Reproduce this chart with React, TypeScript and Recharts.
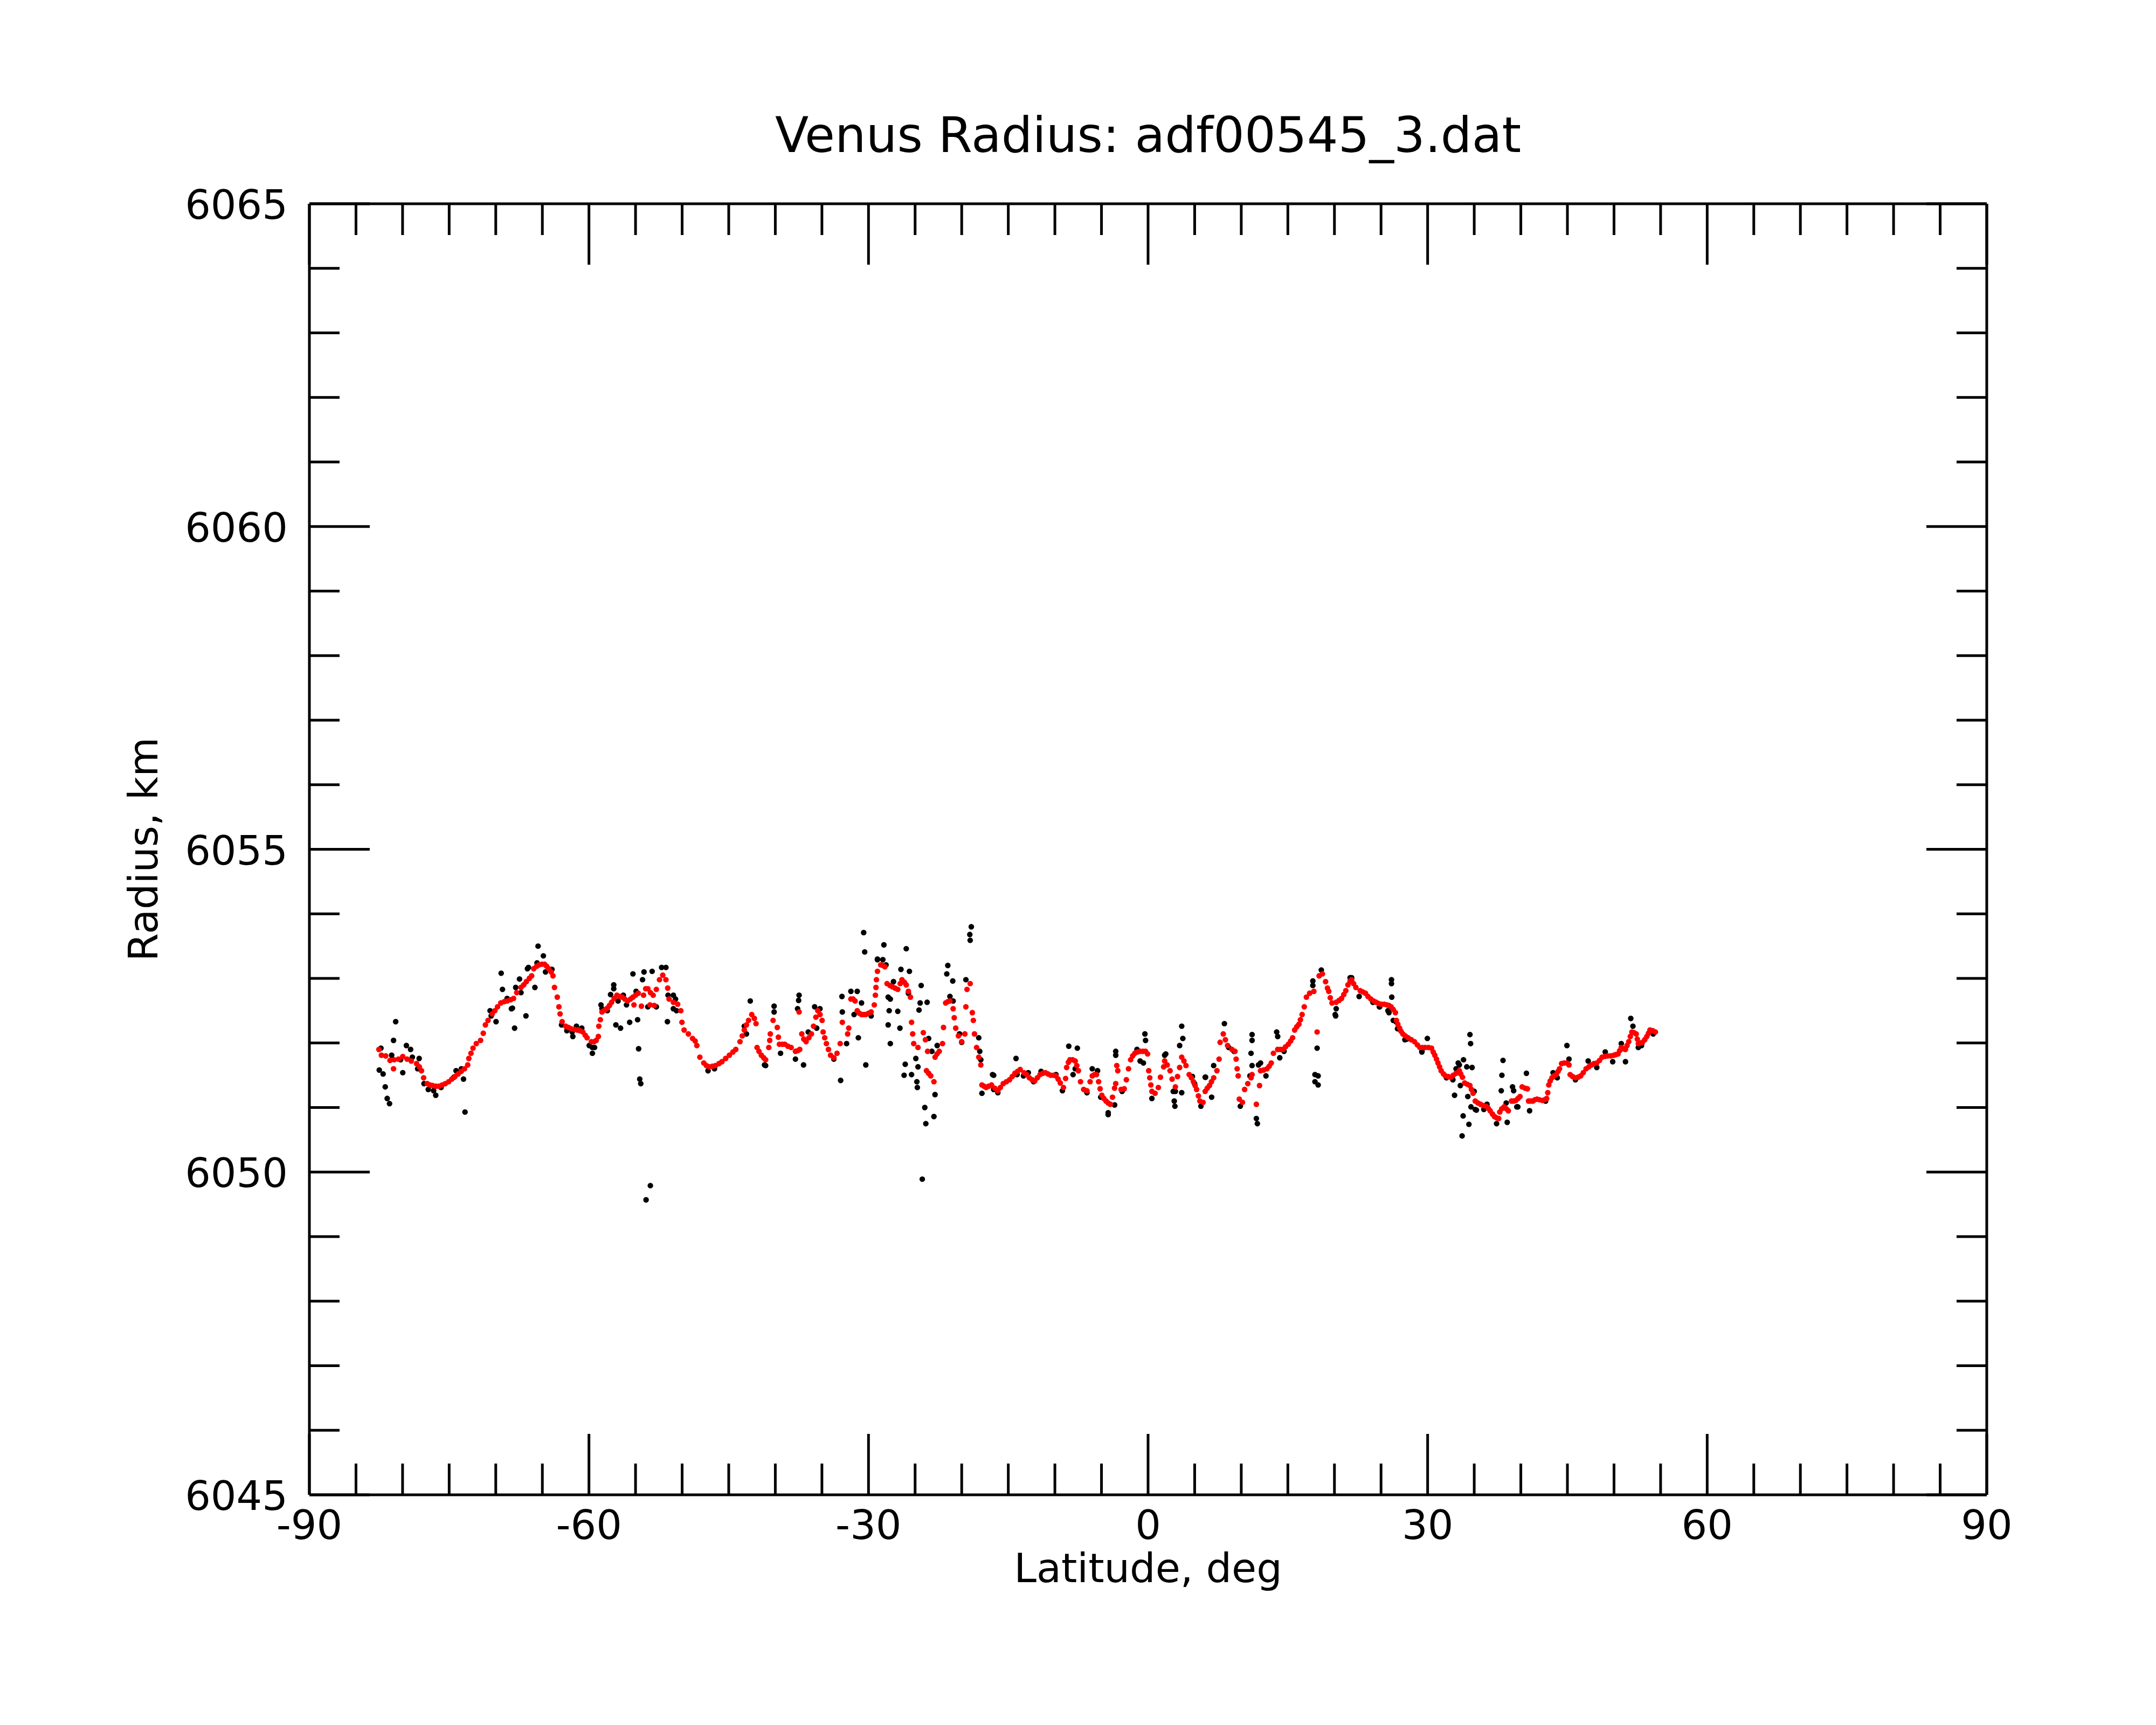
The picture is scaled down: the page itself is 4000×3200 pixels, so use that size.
import React from 'react';
import { ScatterChart, Scatter, XAxis, YAxis } from 'recharts';

const FONT = 'DejaVu Sans';
const TITLE = 'Venus Radius: adf00545_3.dat';
const X_LABEL = 'Latitude, deg';
const Y_LABEL = 'Radius, km';

const X_DOMAIN: [number, number] = [-90, 90];
const Y_DOMAIN: [number, number] = [6045, 6065];
const X_TICKS = [-90, -85, -80, -75, -70, -65, -60, -55, -50, -45, -40, -35, -30, -25, -20, -15, -10, -5, 0, 5, 10, 15, 20, 25, 30, 35, 40, 45, 50, 55, 60, 65, 70, 75, 80, 85, 90];
const X_MAJOR = [-90, -60, -30, 0, 30, 60, 90];
const Y_TICKS = [6045, 6046, 6047, 6048, 6049, 6050, 6051, 6052, 6053, 6054, 6055, 6056, 6057, 6058, 6059, 6060, 6061, 6062, 6063, 6064, 6065];
const Y_MAJOR = [6045, 6050, 6055, 6060, 6065];

// smoothed radius (red)
const RED_SMOOTHED: [number, number][] = [
  [-82.54,6051.90],[-82.27,6051.81],[-81.81,6051.80],[-81.35,6051.73],[-80.97,6051.60],[-80.90,6051.74],[-80.44,6051.75],[-79.98,6051.79],[-79.52,6051.75],[-79.07,6051.72],[-78.50,6051.68],[-78.20,6051.63],[-77.97,6051.57],[-77.74,6051.46],[-77.35,6051.37],[-77.05,6051.35],[-76.78,6051.34],[-76.43,6051.33],[-76.09,6051.33],[-75.75,6051.35],[-75.41,6051.37],[-75.05,6051.40],[-74.72,6051.44],[-74.38,6051.48],[-74.04,6051.52],[-73.70,6051.56],[-73.35,6051.60],[-73.01,6051.66],[-72.89,6051.76],[-72.66,6051.84],[-72.44,6051.92],[-72.09,6051.99],[-71.63,6052.04],[-71.34,6052.15],[-71.11,6052.28],[-70.83,6052.35],[-70.38,6052.45],[-70.10,6052.50],[-69.81,6052.56],[-69.46,6052.62],[-69.10,6052.64],[-68.78,6052.65],[-68.40,6052.67],[-68.09,6052.69],[-67.75,6052.78],[-67.29,6052.86],[-67.00,6052.90],[-66.72,6052.95],[-66.40,6053.00],[-66.15,6053.04],[-65.92,6053.15],[-65.60,6053.19],[-65.35,6053.21],[-65.05,6053.22],[-64.77,6053.22],[-64.55,6053.19],[-64.32,6053.15],[-64.05,6053.10],[-63.86,6053.04],[-63.70,6052.86],[-63.40,6052.71],[-63.22,6052.56],[-63.10,6052.45],[-62.88,6052.33],[-62.49,6052.26],[-62.20,6052.24],[-61.91,6052.22],[-61.55,6052.21],[-61.23,6052.20],[-60.95,6052.19],[-60.66,6052.17],[-60.40,6052.12],[-60.20,6052.08],[-59.74,6052.02],[-59.45,6052.02],[-59.22,6052.04],[-58.99,6052.10],[-58.94,6052.26],[-58.78,6052.36],[-58.60,6052.48],[-58.30,6052.51],[-58.03,6052.54],[-57.80,6052.58],[-57.57,6052.63],[-57.30,6052.69],[-57.00,6052.74],[-56.70,6052.72],[-56.43,6052.71],[-56.15,6052.68],[-55.85,6052.65],[-55.55,6052.68],[-55.28,6052.71],[-55.17,6052.59],[-55.00,6052.74],[-54.71,6052.77],[-54.37,6052.57],[-54.14,6052.74],[-53.91,6052.84],[-53.68,6052.84],[-53.45,6052.59],[-53.40,6052.78],[-53.11,6052.74],[-53.00,6052.58],[-52.77,6052.83],[-52.43,6052.98],[-52.08,6053.05],[-51.74,6052.98],[-51.55,6052.85],[-51.40,6052.68],[-50.94,6052.63],[-50.48,6052.60],[-50.14,6052.50],[-50.02,6052.32],[-49.79,6052.20],[-49.33,6052.14],[-48.88,6052.07],[-48.60,6052.03],[-48.42,6051.96],[-48.10,6051.78],
  [-47.68,6051.69],[-47.40,6051.65],[-47.10,6051.63],[-46.75,6051.64],[-46.42,6051.65],[-46.05,6051.68],[-45.73,6051.71],[-45.33,6051.76],[-44.93,6051.81],[-44.55,6051.86],[-44.24,6051.90],[-43.79,6052.02],[-43.55,6052.11],[-43.33,6052.20],[-43.10,6052.28],[-42.87,6052.35],[-42.53,6052.44],[-42.25,6052.38],[-42.07,6052.30],[-41.96,6051.93],[-41.75,6051.87],[-41.50,6051.81],[-41.25,6051.77],[-41.04,6051.74],[-40.70,6051.93],[-40.60,6052.04],[-40.54,6052.14],[-40.24,6052.35],[-39.79,6052.24],[-39.67,6052.09],[-39.56,6051.98],[-39.25,6051.98],[-38.98,6051.98],[-38.65,6051.95],[-38.30,6051.93],[-37.84,6051.87],[-37.60,6051.88],[-37.38,6051.90],[-37.16,6052.14],[-37.45,6052.48],[-36.95,6052.06],[-36.70,6052.02],[-36.40,6052.08],[-36.13,6052.14],[-35.90,6052.26],[-35.65,6052.40],[-35.44,6052.50],[-35.20,6052.44],[-34.98,6052.35],[-34.87,6052.17],[-34.70,6052.08],[-34.52,6051.99],[-34.30,6051.90],[-34.07,6051.81],[-33.72,6051.77],[-33.38,6051.84],[-33.04,6051.99],[-32.81,6052.32],[-32.24,6052.14],[-32.12,6052.23],[-31.89,6052.68],[-31.65,6052.68],[-31.44,6052.65],[-31.21,6052.50],[-30.98,6052.46],[-30.75,6052.44],[-30.50,6052.44],[-30.29,6052.44],[-30.00,6052.46],[-29.72,6052.48],[-29.38,6052.59],[-29.26,6052.74],[-29.20,6052.86],[-29.15,6052.98],[-29.04,6053.11],[-28.69,6053.21],[-28.45,6053.20],[-28.24,6053.18],[-28.01,6052.92],[-27.70,6052.89],[-27.43,6052.87],[-27.15,6052.85],[-26.86,6052.83],[-26.60,6052.92],[-26.41,6052.98],[-26.15,6052.94],[-25.95,6052.90],[-25.72,6052.80],[-25.50,6052.71],[-25.38,6052.32],[-25.26,6052.14],[-25.15,6051.99],[-24.69,6051.93],[-24.12,6052.16],[-23.89,6052.05],[-23.66,6051.87],[-23.78,6051.57],[-23.55,6051.53],[-23.32,6051.49],[-22.98,6051.40],[-22.86,6051.78],[-22.65,6051.83],[-22.41,6051.87],[-22.06,6051.99],[-21.95,6052.24],[-21.72,6052.62],[-21.50,6052.64],[-21.26,6052.65],[-20.92,6052.53],[-20.80,6052.39],[-20.64,6052.23],[-20.35,6052.11],[-20.00,6052.02],[-19.66,6052.14],[-19.55,6052.56],[-19.43,6052.83],[-19.09,6052.92],[-18.86,6052.47],[-18.75,6052.35],[-18.63,6052.14],[-18.40,6051.93],[-18.17,6051.78],[-17.95,6051.66],[-17.83,6051.35],[-17.60,6051.33],[-17.37,6051.31],[-17.10,6051.33],[-16.80,6051.35],[-16.45,6051.30],[-16.12,6051.26],[-15.85,6051.31],[-15.54,6051.37],[-15.20,6051.40],[-14.86,6051.43],[-14.57,6051.48],[-14.29,6051.53],[-14.00,6051.56],[-13.72,6051.59],
  [-13.31,6051.54],[-13.03,6051.51],[-12.74,6051.46],[-12.45,6051.43],[-12.17,6051.41],[-11.88,6051.46],[-11.59,6051.51],[-11.30,6051.53],[-11.02,6051.54],[-10.74,6051.52],[-10.45,6051.50],[-10.15,6051.50],[-9.88,6051.49],[-9.65,6051.44],[-9.42,6051.38],[-9.08,6051.31],[-8.85,6051.45],[-8.74,6051.62],[-8.55,6051.70],[-8.39,6051.74],[-8.10,6051.74],[-7.82,6051.72],[-7.65,6051.65],[-7.48,6051.57],[-7.25,6051.40],[-6.91,6051.28],[-6.56,6051.26],[-6.22,6051.40],[-5.99,6051.49],[-5.75,6051.51],[-5.53,6051.51],[-5.31,6051.40],[-5.15,6051.29],[-4.96,6051.19],[-4.75,6051.14],[-4.51,6051.10],[-4.28,6051.07],[-4.05,6051.05],[-3.82,6051.16],[-3.60,6051.30],[-3.47,6051.37],[-3.36,6051.65],[-3.25,6051.57],[-2.90,6051.28],[-2.56,6051.29],[-2.33,6051.43],[-2.10,6051.60],[-1.87,6051.74],[-1.65,6051.80],[-1.42,6051.84],[-1.15,6051.86],[-0.85,6051.87],[-0.55,6051.87],[-0.27,6051.87],[-0.05,6051.83],[0.07,6051.57],[0.18,6051.46],[0.30,6051.35],[0.41,6051.25],[0.75,6051.22],[1.10,6051.31],[1.33,6051.47],[1.67,6051.63],[1.78,6051.72],[2.05,6051.66],[2.36,6051.57],[2.58,6051.44],[2.93,6051.32],[3.16,6051.48],[3.39,6051.62],[3.61,6051.78],[3.85,6051.72],[4.07,6051.65],[4.41,6051.51],[4.65,6051.46],[4.87,6051.40],[5.05,6051.34],[5.21,6051.28],[5.40,6051.18],[5.56,6051.10],[5.90,6051.08],[6.13,6051.25],[6.35,6051.30],[6.59,6051.34],[6.80,6051.40],[7.04,6051.46],[7.39,6051.57],[7.62,6051.75],[7.73,6052.01],[8.07,6052.14],[8.30,6052.05],[8.53,6051.96],[8.99,6051.90],[9.33,6051.87],[9.45,6051.75],[9.56,6051.60],[9.67,6051.49],[9.79,6051.13],[10.13,6051.08],[10.36,6051.28],[10.70,6051.37],[11.05,6051.46],[11.16,6051.51],[11.62,6051.05],[11.96,6051.34],[12.07,6051.57],[12.40,6051.58],[12.76,6051.60],[13.00,6051.64],[13.22,6051.69],[13.45,6051.84],[13.91,6051.90],[14.20,6051.90],[14.48,6051.90],[14.75,6051.94],[15.05,6051.98],[15.30,6052.03],[15.51,6052.08],[15.73,6052.20],[15.95,6052.25],[16.19,6052.29],[16.35,6052.36],[16.53,6052.44],[16.76,6052.56],[16.99,6052.71],[17.34,6052.77],[17.79,6052.80],[18.14,6052.17],[18.36,6053.04],[18.71,6053.07],[19.05,6052.95],[19.25,6052.85],[19.39,6052.80],[19.55,6052.70],[19.74,6052.62],[20.19,6052.63],[20.50,6052.66],[20.76,6052.69],[21.00,6052.75],[21.22,6052.81],[21.45,6052.90],[21.68,6052.96],[21.85,6052.98],
  [22.05,6052.92],[22.30,6052.86],[22.76,6052.81],[23.05,6052.79],[23.33,6052.77],[23.60,6052.72],[23.91,6052.68],[24.20,6052.65],[24.48,6052.63],[24.75,6052.61],[25.05,6052.60],[25.35,6052.60],[25.62,6052.59],[25.85,6052.58],[26.08,6052.56],[26.30,6052.52],[26.54,6052.47],[26.65,6052.35],[26.80,6052.29],[26.99,6052.23],[27.15,6052.18],[27.34,6052.14],[27.60,6052.11],[27.91,6052.08],[28.25,6052.05],[28.59,6052.02],[28.90,6051.97],[29.17,6051.93],[29.45,6051.93],[29.74,6051.93],[30.10,6051.93],[30.42,6051.92],[30.60,6051.86],[30.77,6051.81],[30.95,6051.75],[31.11,6051.69],[31.28,6051.63],[31.45,6051.57],[31.70,6051.52],[31.91,6051.49],[32.20,6051.48],[32.48,6051.47],[32.75,6051.50],[33.05,6051.53],[33.40,6051.57],[33.55,6051.52],[33.74,6051.47],[33.97,6051.38],[34.25,6051.36],[34.54,6051.34],[34.70,6051.28],[34.88,6051.22],[35.11,6051.10],[35.40,6051.07],[35.68,6051.05],[35.95,6051.03],[36.26,6051.02],[36.50,6050.99],[36.71,6050.95],[36.95,6050.90],[37.17,6050.86],[37.40,6050.84],[37.63,6050.83],[37.74,6050.93],[37.95,6050.98],[38.20,6051.01],[38.45,6050.98],[38.66,6050.95],[39.00,6051.10],[39.23,6051.10],[39.46,6051.11],[39.70,6051.14],[39.91,6051.17],[40.14,6051.32],[40.45,6051.30],[40.71,6051.29],[40.83,6051.10],[41.05,6051.10],[41.29,6051.10],[41.50,6051.12],[41.74,6051.13],[42.00,6051.12],[42.31,6051.11],[42.55,6051.12],[42.77,6051.14],[42.89,6051.23],[43.00,6051.35],[43.15,6051.41],[43.34,6051.46],[43.55,6051.49],[43.80,6051.51],[44.00,6051.56],[44.15,6051.60],[44.37,6051.68],[44.65,6051.69],[44.95,6051.69],[45.17,6051.66],[45.29,6051.51],[45.55,6051.48],[45.86,6051.46],[46.15,6051.47],[46.43,6051.49],[46.70,6051.54],[47.00,6051.60],[47.30,6051.63],[47.58,6051.66],[47.85,6051.68],[48.15,6051.69],[48.45,6051.73],[48.72,6051.78],[49.00,6051.79],[49.29,6051.80],[49.65,6051.80],[49.98,6051.81],[50.20,6051.82],[50.43,6051.83],[50.60,6051.88],[50.78,6051.93],[51.00,6051.91],[51.23,6051.90],[51.40,6051.96],[51.58,6052.02],[51.75,6052.10],[51.92,6052.17],[52.15,6052.16],[52.38,6052.14],[52.50,6052.06],[52.61,6051.99],[52.85,6052.00],[53.06,6052.01],[53.30,6052.05],[53.52,6052.10],[53.70,6052.15],[53.86,6052.20],[54.15,6052.19],[54.44,6052.17],
];

// raw radius measurements (black)
const BLACK_RAW: [number, number][] = [
  [-82.50,6051.58],[-82.32,6051.92],[-82.09,6051.52],[-81.86,6051.32],[-81.65,6051.14],[-81.40,6051.06],[-81.17,6051.81],[-80.97,6052.04],[-80.74,6052.33],[-80.21,6051.74],[-79.98,6051.54],[-79.59,6051.96],[-79.14,6051.90],[-78.95,6051.78],[-78.38,6051.60],[-78.22,6051.76],[-77.70,6051.37],[-77.24,6051.28],[-76.67,6051.26],[-76.44,6051.19],[-75.87,6051.31],[-74.49,6051.47],[-74.26,6051.57],[-73.69,6051.60],[-73.46,6051.44],[-73.30,6050.93],
  [-70.61,6052.50],[-70.49,6052.42],[-69.97,6052.33],[-69.42,6053.08],[-69.28,6052.83],[-68.78,6052.69],[-68.32,6052.53],[-68.21,6052.54],[-67.98,6052.23],[-67.86,6052.86],[-67.45,6052.99],[-67.29,6052.78],[-66.76,6052.42],[-66.60,6053.15],[-66.49,6053.17],[-65.80,6052.86],[-65.57,6053.24],[-65.46,6053.50],[-64.89,6053.35],[-64.66,6053.10],[-63.97,6053.14],[-62.94,6052.28],[-62.37,6052.19],[-61.80,6052.17],[-61.73,6052.10],[-61.34,6052.26],[-60.77,6052.23],[-59.97,6051.96],[-59.63,6051.84],[-59.63,6051.93],[-59.40,6051.93],[-58.71,6052.59],[-58.60,6052.53],[-58.03,6052.50],[-57.68,6052.75],[-57.34,6052.90],[-57.34,6052.84],[-57.11,6052.28],[-56.88,6052.65],[-56.61,6052.23],[-56.31,6052.74],[-55.97,6052.59],[-55.63,6052.32],[-55.28,6053.07],[-54.94,6052.80],[-54.78,6052.36],[-54.67,6051.91],[-54.55,6051.44],[-54.44,6051.37],[-54.25,6052.98],[-54.09,6053.10],[-53.87,6049.57],[-53.68,6052.56],[-53.41,6049.79],[-53.22,6053.11],[-52.77,6052.56],[-52.20,6053.17],[-51.74,6053.17],[-51.58,6052.33],[-51.51,6052.74],[-50.94,6052.74],[-50.94,6052.53],[-50.71,6052.68],[-50.60,6052.50],
  [-47.22,6051.57],[-46.53,6051.60],[-43.33,6052.26],[-43.10,6052.14],[-42.69,6052.65],[-41.16,6051.66],[-41.04,6051.65],[-40.13,6052.57],[-40.13,6052.48],[-39.44,6051.84],[-37.84,6051.75],[-37.61,6052.53],[-37.50,6052.66],[-37.45,6052.74],[-36.97,6051.66],[-36.47,6052.17],[-35.78,6052.56],[-35.56,6052.23],[-35.21,6052.53],[-33.72,6051.75],[-32.99,6051.42],[-32.85,6052.72],[-32.81,6052.48],[-32.35,6051.99],[-31.89,6052.80],[-31.55,6052.44],[-31.21,6052.80],[-31.09,6052.08],[-30.75,6052.62],[-30.52,6053.71],[-30.41,6053.41],[-30.29,6051.66],[-29.72,6052.42],[-29.04,6053.29],[-29.04,6053.30],[-28.46,6053.29],[-28.35,6053.52],[-28.12,6053.21],[-27.89,6052.71],[-27.89,6052.28],[-27.78,6052.50],[-27.66,6052.68],[-27.66,6051.99],[-27.32,6052.95],[-26.86,6052.49],[-26.63,6052.23],[-26.52,6053.14],[-26.18,6051.50],[-26.06,6051.67],[-25.95,6053.46],[-25.72,6052.77],[-25.61,6053.11],[-25.38,6051.51],[-24.92,6051.76],[-24.81,6051.40],[-24.76,6051.31],[-24.69,6051.63],[-24.58,6052.51],[-24.46,6052.62],[-24.35,6052.89],[-24.23,6049.89],[-23.96,6051.00],[-23.85,6050.75],[-23.71,6052.63],[-23.55,6052.07],[-23.20,6051.87],[-22.98,6050.86],[-22.86,6051.20],[-22.63,6051.96],[-21.60,6053.07],[-21.49,6053.20],[-21.26,6052.72],[-20.96,6052.96],[-20.92,6052.65],[-20.23,6052.14],[-20.00,6052.01],[-19.55,6052.98],[-19.13,6053.68],[-19.09,6053.59],[-18.97,6053.80],[-18.17,6052.08],[-18.06,6051.87],[-17.95,6051.74],[-17.83,6051.22],[-16.69,6051.51],[-16.57,6051.50],[-16.57,6051.28],[-16.12,6051.23],[-14.17,6051.76],[-14.06,6051.51],[-13.37,6051.49],
  [-12.85,6051.54],[-12.28,6051.40],[-11.48,6051.56],[-9.88,6051.51],[-9.19,6051.26],[-8.51,6051.95],[-8.05,6051.51],[-7.82,6051.60],[-7.59,6051.92],[-6.56,6051.23],[-5.99,6051.60],[-5.42,6051.57],[-5.08,6051.16],[-4.28,6050.89],[-4.28,6050.92],[-3.59,6051.04],[-3.47,6051.81],[-3.47,6051.87],[-2.79,6051.25],[-1.19,6051.90],[-0.85,6051.72],[-0.50,6051.69],[-0.34,6052.14],[-0.27,6052.04],[0.41,6051.14],[1.78,6051.81],[1.90,6051.83],[2.70,6051.25],[2.81,6051.10],[2.88,6051.02],[2.93,6051.25],[3.39,6051.96],[3.61,6052.26],[3.61,6051.23],[3.73,6052.07],[4.76,6051.48],[4.99,6051.37],[5.67,6051.02],[6.13,6051.47],[6.17,6051.47],[6.82,6051.16],[7.04,6051.65],[8.19,6052.30],[8.65,6051.93],[9.22,6051.87],[9.90,6051.02],[10.93,6051.49],[11.05,6051.84],[11.16,6052.13],[11.16,6052.04],[11.16,6051.65],[11.62,6050.83],[11.73,6050.75],[11.85,6051.66],[12.07,6051.69],[12.65,6051.49],[13.80,6052.17],[13.91,6052.10],[14.13,6051.77],[14.59,6051.87],[17.68,6052.96],[17.68,6052.89],[17.91,6051.51],[18.14,6051.92],[18.25,6051.49],[17.91,6051.40],[18.25,6051.35],[18.59,6053.13],[20.08,6052.44],[20.13,6052.42],[20.19,6052.53],[21.68,6053.01],
  [21.85,6053.01],[22.65,6052.72],[24.13,6052.63],[24.82,6052.56],[24.86,6052.56],[25.74,6052.50],[25.85,6052.47],[26.12,6052.98],[26.12,6052.92],[26.15,6052.71],[26.31,6052.35],[26.60,6052.33],[26.77,6052.22],[26.88,6052.22],[27.56,6052.05],[27.76,6052.06],[29.38,6051.86],[29.39,6051.87],[29.97,6052.07],[32.02,6051.46],[32.71,6051.43],[32.89,6051.19],[33.05,6051.60],[33.28,6051.69],[33.40,6051.66],[33.51,6051.34],[33.70,6050.56],[33.81,6050.87],[33.85,6051.74],[34.20,6051.63],[34.31,6051.17],[34.43,6050.74],[34.54,6052.13],[34.61,6051.99],[34.65,6051.01],[34.77,6051.62],[35.00,6051.25],[35.11,6050.97],[35.23,6050.96],[36.03,6050.97],[36.37,6051.05],[37.40,6050.75],[37.90,6051.26],[37.97,6051.50],[38.09,6051.73],[38.43,6051.07],[38.54,6050.77],[39.11,6051.32],[39.23,6051.26],[39.57,6051.01],[39.68,6051.01],[40.60,6051.53],[40.94,6050.95],[42.66,6051.10],[43.46,6051.54],[43.91,6051.46],[44.95,6051.96],[45.17,6051.75],[45.86,6051.43],[47.23,6051.72],[48.15,6051.62],[49.06,6051.86],[49.86,6051.71],[50.78,6051.99],[51.23,6051.71],[51.80,6052.38],[52.03,6052.26],[52.61,6051.93],[52.95,6051.96],[54.21,6052.14],
];

const redData = RED_SMOOTHED.map(([lat, r]) => ({ lat, r }));
const blackData = BLACK_RAW.map(([lat, r]) => ({ lat, r }));

// layout (chart coordinates)
const W = 3984;
const H = 3184;
const PLOT_LEFT = 566;
const PLOT_TOP = 370;
const PLOT_W = 3112;
const PLOT_H = 2395;
const AX = 100;
const STROKE = 5;
const FS = 75;
const DOT_R = 5.2;

const BottomTick = (props: any) => {
  const { x, y, payload } = props;
  const v = payload.value;
  const major = X_MAJOR.includes(v);
  return (
    <g>
      <line x1={x} y1={y} x2={x} y2={y - (major ? 113 : 58)} stroke="#000" strokeWidth={STROKE} />
      {major && (
        <text x={x} y={y + 82} textAnchor="middle" fontSize={FS} fontFamily={FONT} fill="#000">{String(v)}</text>
      )}
    </g>
  );
};

const TopTick = (props: any) => {
  const { x, y, payload } = props;
  const major = X_MAJOR.includes(payload.value);
  return <line x1={x} y1={y} x2={x} y2={y + (major ? 113 : 58)} stroke="#000" strokeWidth={STROKE} />;
};

const LeftTick = (props: any) => {
  const { x, y, payload } = props;
  const v = payload.value;
  const major = Y_MAJOR.includes(v);
  return (
    <g>
      <line x1={x} y1={y} x2={x + (major ? 112 : 56)} y2={y} stroke="#000" strokeWidth={STROKE} />
      {major && (
        <text x={x - 40} y={y + 28} textAnchor="end" fontSize={FS} fontFamily={FONT} fill="#000">{String(v)}</text>
      )}
    </g>
  );
};

const RightTick = (props: any) => {
  const { x, y, payload } = props;
  const major = Y_MAJOR.includes(payload.value);
  return <line x1={x} y1={y} x2={x - (major ? 112 : 56)} y2={y} stroke="#000" strokeWidth={STROKE} />;
};

const RedDot = (p: any) => <circle cx={p.cx} cy={p.cy} r={DOT_R} fill="#ff0000" />;
const BlackDot = (p: any) => <circle cx={p.cx} cy={p.cy} r={DOT_R} fill="#000000" />;

const XLabel = () => (
  <text x={PLOT_LEFT + PLOT_W / 2} y={PLOT_TOP + PLOT_H + 162} textAnchor="middle" fontSize={FS} fontFamily={FONT} fill="#000">{X_LABEL}</text>
);
const TitleLabel = () => (
  <text x={PLOT_LEFT + PLOT_W / 2} y={PLOT_TOP - 96} textAnchor="middle" fontSize={91} fontFamily={FONT} fill="#000">{TITLE}</text>
);
const YLabel = () => {
  const x = PLOT_LEFT - 282;
  const y = PLOT_TOP + PLOT_H / 2;
  return (
    <text x={x} y={y} transform={`rotate(-90, ${x}, ${y})`} textAnchor="middle" fontSize={FS} fontFamily={FONT} fill="#000">{Y_LABEL}</text>
  );
};

const axisLine = { stroke: '#000', strokeWidth: STROKE };

export default function App() {
  return (
    <div style={{ width: W, height: H, background: '#fff' }}>
      <ScatterChart
        width={W}
        height={H}
        margin={{ top: PLOT_TOP - AX, left: PLOT_LEFT - AX, right: W - PLOT_LEFT - PLOT_W - AX, bottom: H - PLOT_TOP - PLOT_H - AX }}
      >
        <XAxis xAxisId="b" dataKey="lat" type="number" orientation="bottom" domain={X_DOMAIN} ticks={X_TICKS} interval={0} height={AX} tickSize={0} tickMargin={0} tickLine={false} axisLine={axisLine} tick={BottomTick} allowDataOverflow label={(p: any) => <XLabel />} />
        <XAxis xAxisId="t" dataKey="lat" type="number" orientation="top" domain={X_DOMAIN} ticks={X_TICKS} interval={0} height={AX} tickSize={0} tickMargin={0} tickLine={false} axisLine={axisLine} tick={TopTick} allowDataOverflow label={(p: any) => <TitleLabel />} />
        <YAxis yAxisId="l" dataKey="r" type="number" orientation="left" domain={Y_DOMAIN} ticks={Y_TICKS} interval={0} width={AX} tickSize={0} tickMargin={0} tickLine={false} axisLine={axisLine} tick={LeftTick} allowDataOverflow label={(p: any) => <YLabel />} />
        <YAxis yAxisId="r" dataKey="r" type="number" orientation="right" domain={Y_DOMAIN} ticks={Y_TICKS} interval={0} width={AX} tickSize={0} tickMargin={0} tickLine={false} axisLine={axisLine} tick={RightTick} allowDataOverflow />
        <Scatter data={blackData} xAxisId="b" yAxisId="l" shape={BlackDot} isAnimationActive={false} />
        <Scatter data={redData} xAxisId="b" yAxisId="l" shape={RedDot} isAnimationActive={false} />
        <Scatter data={[]} xAxisId="t" yAxisId="r" isAnimationActive={false} />
      </ScatterChart>
    </div>
  );
}
